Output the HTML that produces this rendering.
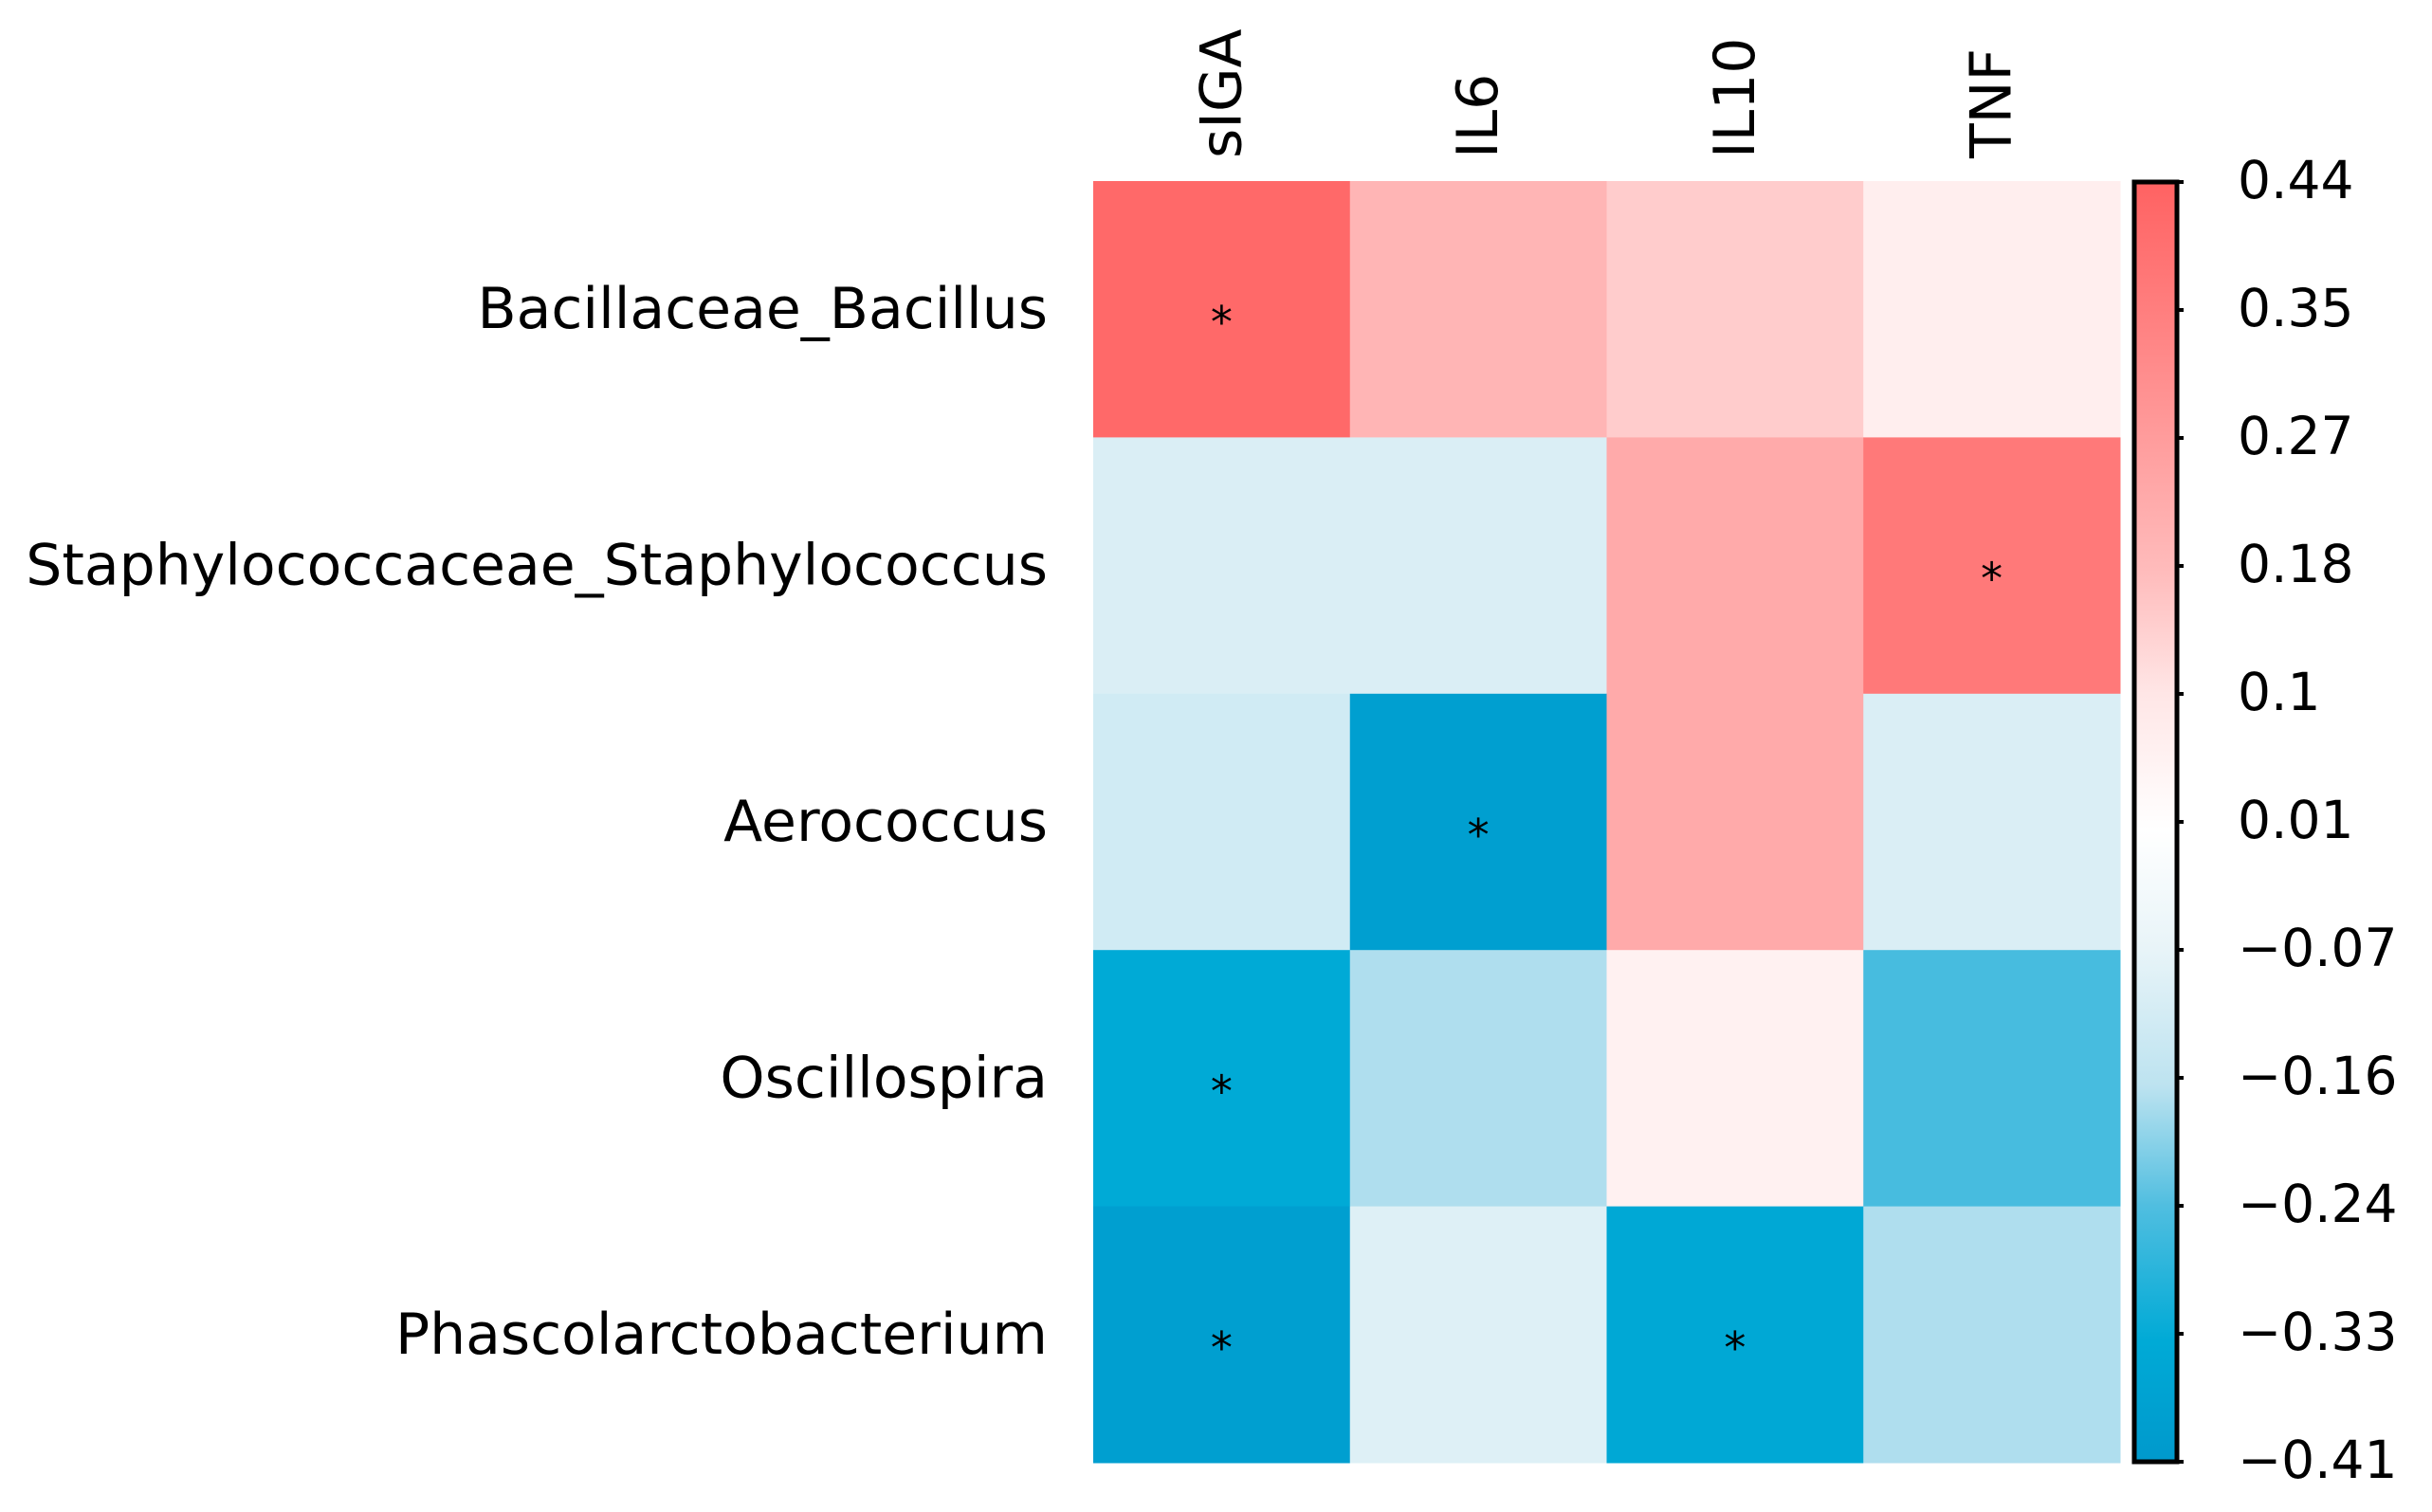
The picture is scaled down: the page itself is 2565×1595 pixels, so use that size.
<!DOCTYPE html>
<html><head><meta charset="utf-8"><style>
html,body{margin:0;padding:0;background:#fff;}
svg{display:block;font-family:"DejaVu Sans","Liberation Sans",sans-serif;}
</style></head><body>
<svg id="chart" width="2565" height="1595" viewBox="0 0 2565 1595" xmlns="http://www.w3.org/2000/svg">
<defs><linearGradient id="cbgrad" x1="0" y1="1" x2="0" y2="0"></linearGradient></defs>
<g id="cells"></g><g id="rowlabels"></g><g id="collabels"></g><g id="cbar"></g>
</svg>
<script>
const rows = ["Bacillaceae_Bacillus","Staphylococcaceae_Staphylococcus","Aerococcus","Oscillospira","Phascolarctobacterium"];
const cols = ["sIGA","IL6","IL10","TNF"];
const values = [
  [0.42, 0.20, 0.15, 0.07],
  [-0.10, -0.10, 0.23, 0.37],
  [-0.12, -0.38, 0.23, -0.10],
  [-0.33, -0.17, 0.06, -0.25],
  [-0.38, -0.09, -0.34, -0.17]
];
const stars = [
  [1,0,0,0],
  [0,0,0,1],
  [0,1,0,0],
  [1,0,0,0],
  [1,0,1,0]
];
const cbTicks = [0.44,0.355,0.27,0.185,0.10,0.015,-0.07,-0.155,-0.24,-0.325,-0.41];
const cbTickLabels = ["0.44","0.35","0.27","0.18","0.1","0.01","\u22120.07","\u22120.16","\u22120.24","\u22120.33","\u22120.41"];
const stopVals = [-0.41,-0.33,-0.24,-0.16,-0.07,0.01,0.10,0.18,0.27,0.35,0.44];
const stopCols = ["#0099cc","#00aad6","#50bee0","#bde3f0","#e8f4f8","#ffffff","#ffe6e6","#ffbcbc","#ff9c9c","#ff8080","#ff6262"];

const NS="http://www.w3.org/2000/svg";
const X0=1153,X1=2236,Y0=191,Y1=1543;
const cw=(X1-X0)/cols.length, rh=(Y1-Y0)/rows.length;
const vmin=-0.41,vmax=0.44;
const xPos=i=>X0+i*cw;
const yPos=j=>Y0+j*rh;
const CB={x:2251,w:45,top:192,bot:1542};
const cbY=v=>CB.bot-(v-vmin)/(vmax-vmin)*(CB.bot-CB.top);
function hex(h){return [1,3,5].map(i=>parseInt(h.substr(i,2),16));}
function color(v){
  if(v<=stopVals[0])return stopCols[0];
  for(let k=1;k<stopVals.length;k++){
    if(v<=stopVals[k]){const t=(v-stopVals[k-1])/(stopVals[k]-stopVals[k-1]);
      const a=hex(stopCols[k-1]),b=hex(stopCols[k]);
      return "rgb("+a.map((c,i)=>Math.round(c+(b[i]-c)*t)).join(",")+")";}
  }
  return stopCols[stopCols.length-1];
}
function mk(tag,attrs,parent){const e=document.createElementNS(NS,tag);for(const k in attrs)e.setAttribute(k,attrs[k]);parent.appendChild(e);return e;}
const gC=document.getElementById('cells'),gR=document.getElementById('rowlabels'),gL=document.getElementById('collabels'),gB=document.getElementById('cbar');
values.forEach((row,j)=>row.forEach((v,i)=>{
  const r=mk('rect',{x:xPos(i),y:yPos(j),width:cw+0.5,height:rh+0.5,fill:color(v)},gC);
  
  
  if(stars[j][i]){
    const s=mk('text',{x:xPos(i)+cw/2,y:yPos(j)+rh/2+30,'text-anchor':'middle','font-size':46},gC);
    s.textContent='*';
    
    
  }
}));
rows.forEach((n,j)=>{
  const t=mk('text',{x:1105,y:yPos(j)+rh/2+20,'text-anchor':'end','font-size':60},gR);
  t.textContent=n;
  
  
});
cols.forEach((n,i)=>{
  const cx=xPos(i)+cw/2+20;
  const t=mk('text',{x:cx,y:167,'font-size':60,transform:'rotate(-90 '+cx+' 167)'},gL);
  t.textContent=n;
  
  
});
const grad=document.getElementById('cbgrad');
stopVals.forEach((v,k)=>{mk('stop',{offset:(v-vmin)/(vmax-vmin),'stop-color':stopCols[k]},grad);});
const bar=mk('rect',{x:CB.x,y:CB.top,width:CB.w,height:CB.bot-CB.top,fill:'url(#cbgrad)',stroke:'#000','stroke-width':5},gB);


cbTicks.forEach((v,k)=>{
  const y=cbY(v);
  const tk=mk('line',{x1:CB.x+CB.w,x2:CB.x+CB.w+7,y1:y,y2:y,stroke:'#000','stroke-width':4},gB);
  
  
  const t=mk('text',{x:2360,y:y+17,'font-size':55},gB);
  t.textContent=cbTickLabels[k];
  
  
});
</script>
</body></html>
